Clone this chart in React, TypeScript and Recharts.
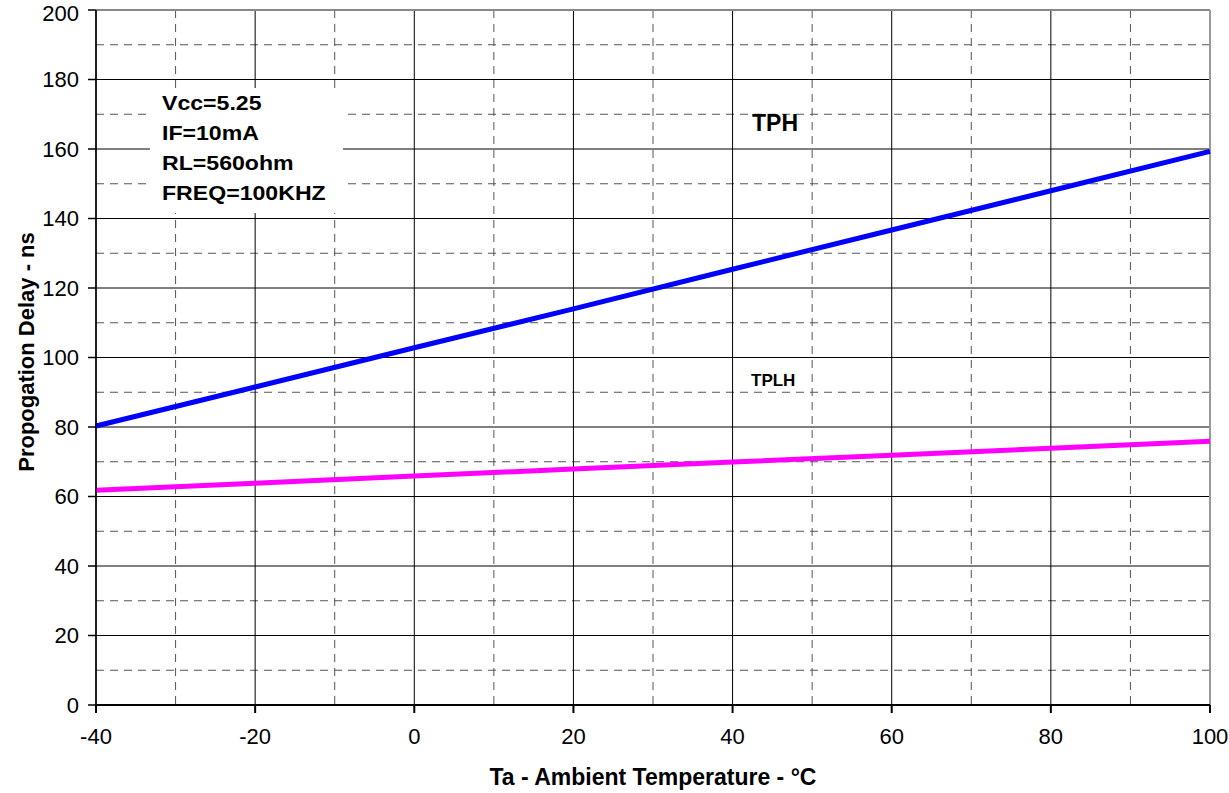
import { LineChart, Line, XAxis, YAxis, CartesianGrid, ReferenceLine } from "recharts";

const TEMPS = [-40, -20, 0, 20, 40, 60, 80, 100];
const TPHL = [80.3, 91.5, 102.8, 114, 125.4, 136.7, 148, 159.3];
const TPLH = [61.8, 63.8, 65.9, 67.9, 69.9, 71.9, 73.9, 75.9];

const X_MAJOR = [-40, -20, 0, 20, 40, 60, 80, 100];
const X_MINOR = [-30, -10, 10, 30, 50, 70, 90];
const Y_MAJOR = [0, 20, 40, 60, 80, 100, 120, 140, 160, 180, 200];
const Y_MINOR = [10, 30, 50, 70, 90, 110, 130, 150, 170, 190];

const NOTES = ["Vcc=5.25", "IF=10mA", "RL=560ohm", "FREQ=100KHZ"];

const rows = TEMPS.map((t, i) => ({ t, tph: TPHL[i], tplh: TPLH[i] }));

const FONT = "Arial, 'Liberation Sans', sans-serif";

function YTitle() {
  return (
    <text x={34} y={352} transform="rotate(-90 34 352)" textAnchor="middle" fontFamily={FONT} fontWeight="bold" fontSize={22} fill="#000">
      Propogation Delay - ns
    </text>
  );
}

function XTitle() {
  return (
    <text x={653} y={785} textAnchor="middle" fontFamily={FONT} fontWeight="bold" fontSize={23} fill="#000">
      Ta - Ambient Temperature - °C
    </text>
  );
}

export default function App() {
  return (
    <div style={{ position: "absolute", left: 0, top: 0, width: 1229, height: 793, background: "#fff", fontFamily: FONT }}>
      <LineChart width={1229} height={793} data={rows} margin={{ top: 10, right: 19, left: 0, bottom: 0 }}>
        <CartesianGrid horizontalValues={Y_MINOR} verticalValues={X_MINOR} stroke="#555" strokeDasharray="8 6" />
        <CartesianGrid horizontalValues={Y_MAJOR} verticalValues={X_MAJOR} stroke="#000" />
        <XAxis
          type="number"
          dataKey="t"
          domain={[-40, 100]}
          ticks={X_MAJOR}
          height={88}
          tickSize={8}
          tickMargin={15}
          stroke="#000"
          strokeWidth={2}
          tick={{ fontSize: 22, fill: "#000", fontFamily: FONT }}
          label={<XTitle />}
        />
        <YAxis
          type="number"
          domain={[0, 200]}
          ticks={Y_MAJOR}
          width={96}
          tickSize={8}
          tickMargin={9}
          stroke="#000"
          strokeWidth={1.5}
          tick={{ fontSize: 22, fill: "#000", fontFamily: FONT }}
          label={<YTitle />}
        />
        <ReferenceLine y={200} stroke="#888" strokeWidth={2} />
        <ReferenceLine x={100} stroke="#999" strokeWidth={2} />
        <Line type="linear" dataKey="tph" stroke="#0000ff" strokeWidth={5} dot={false} isAnimationActive={false} />
        <Line type="linear" dataKey="tplh" stroke="#ff00ff" strokeWidth={5} dot={false} isAnimationActive={false} />
      </LineChart>
      <div style={{ position: "absolute", left: 150, top: 88, width: 193, height: 125, background: "#fff" }} />
      <div
        style={{
          position: "absolute",
          left: 162,
          top: 88,
          fontSize: 21,
          fontWeight: "bold",
          lineHeight: "30px",
          transform: "scaleX(1.1)",
          transformOrigin: "left top",
        }}
      >
        {NOTES.map((n) => (
          <div key={n}>{n}</div>
        ))}
      </div>
      <div style={{ position: "absolute", left: 752, top: 110, fontSize: 23, fontWeight: "bold" }}>TPH</div>
      <div style={{ position: "absolute", left: 751, top: 371, fontSize: 17, fontWeight: "bold" }}>TPLH</div>
    </div>
  );
}
